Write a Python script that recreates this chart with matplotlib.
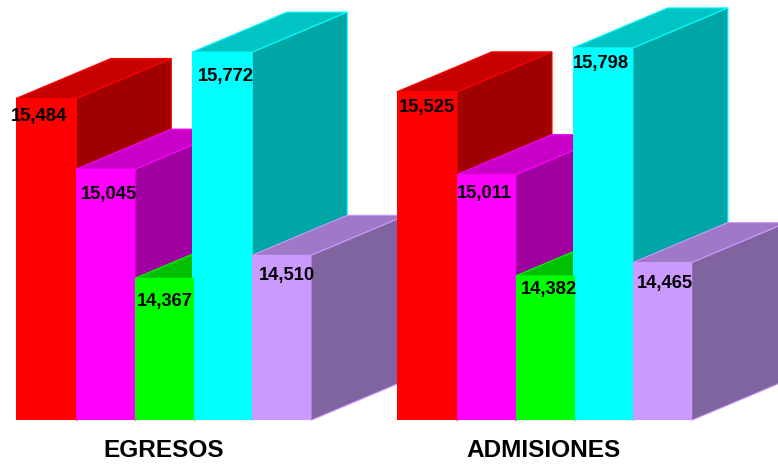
import matplotlib
matplotlib.use('Agg')
import matplotlib.pyplot as plt

plt.rcParams['font.family'] = ['Liberation Sans', 'DejaVu Sans']

groups = ['EGRESOS', 'ADMISIONES']
egresos = [15484, 15045, 14367, 15772, 14510]
admisiones = [15525, 15011, 14382, 15798, 14465]

front_colors = ['#FF0000', '#FF00FF', '#00FF00', '#00FFFF', '#CC99FF']
top_colors = ['#C80000', '#C800C8', '#00C000', '#00C4C4', '#A078C8']
side_colors = ['#A00000', '#A000A0', '#00A000', '#00A6A6', '#8064A0']

# bar edges in pixels, relative to group start
group_starts = [16, 396.7]
bar_offsets = [0, 60.3, 119, 176, 236.2]
bar_widths = [60.3, 58.7, 59, 60.2, 58.8]

# label offset from the top left corner of each bar (pixels right, pixels down)
label_offsets = [
    [(-5, 18), (5, 25.5), (2, 23.5), (6, 24.5), (7, 20)],
    [(2, 15.5), (0, 18.5), (5, 13.5), (0, 16), (3.7, 20.5)],
]

BASE = 13485
PX_PER_UNIT = 0.161
DEPTH_X = 95
DEPTH_Y = 40 / PX_PER_UNIT

fig = plt.figure(figsize=(7.78, 4.66), dpi=100)
ax = fig.add_axes([0, 0, 1, 1])
ax.set_xlim(0, 778)
ax.set_ylim(BASE - 45.7 / PX_PER_UNIT, BASE + 420.3 / PX_PER_UNIT)
ax.axis('off')

z = 1
for g, values in enumerate([egresos, admisiones]):
    for i in range(5):
        x = group_starts[g] + bar_offsets[i]
        w = bar_widths[i]
        v = values[i]

        ax.fill([x + w, x + w + DEPTH_X, x + w + DEPTH_X, x + w],
                [v, v + DEPTH_Y, BASE + DEPTH_Y, BASE],
                facecolor=side_colors[i], edgecolor=front_colors[i], lw=0.8, zorder=z)
        ax.fill([x, x + DEPTH_X, x + w + DEPTH_X, x + w],
                [v, v + DEPTH_Y, v + DEPTH_Y, v],
                facecolor=top_colors[i], edgecolor=front_colors[i], lw=0.8, zorder=z + 1)
        # green front sits on top of the cyan bar
        front_z = z + 6 if i == 2 else z + 2
        ax.bar(x, v - BASE, width=w, bottom=BASE, align='edge',
               color=front_colors[i], linewidth=0, zorder=front_z)
        z += 3

    for i in range(5):
        x = group_starts[g] + bar_offsets[i]
        dx, dy = label_offsets[g][i]
        ax.annotate(f'{values[i]:,}', xy=(x, values[i]),
                    xytext=(dx, -dy), textcoords='offset pixels',
                    ha='left', va='center', fontsize=13.2, fontweight='bold',
                    color='black', zorder=100)

ax.text(163.7, BASE - 30.3 / PX_PER_UNIT, groups[0], ha='center', va='center',
        fontsize=17.6, fontweight='bold', color='#000000')
ax.text(543.7, BASE - 30.3 / PX_PER_UNIT, groups[1], ha='center', va='center',
        fontsize=17.6, fontweight='bold', color='#000000')

fig.savefig('out.png', dpi=100)
